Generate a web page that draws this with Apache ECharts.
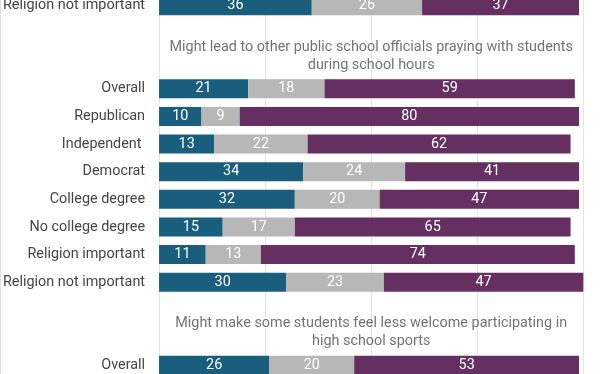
<!DOCTYPE html>
<html>
<head>
<meta charset="utf-8">
<script src="https://cdn.jsdelivr.net/npm/echarts@6/dist/echarts.min.js"></script>
<style>
html,body{margin:0;padding:0;background:#fff;overflow:hidden;}
#wrap{position:relative;width:612px;height:374px;overflow:hidden;}
#edge{position:absolute;left:0;top:0;width:1px;height:374px;background:#e0e0e0;z-index:2;}
#chart{position:absolute;left:0;top:-8px;width:612px;height:387px;}
</style>
</head>
<body>
<div id="wrap"><div id="chart"></div><div id="edge"></div></div>
<script>
const categories = ['Religion not important', '', '', 'Overall', 'Republican', 'Independent ', 'Democrat', 'College degree', 'No college degree', 'Religion important', 'Religion not important', '', '', 'Overall'];
const seriesA = [36, null, null, 21, 10, 13, 34, 32, 15, 11, 30, null, null, 26];
const seriesB = [26, null, null, 18, 9, 22, 24, 20, 17, 13, 23, null, null, 20];
const seriesC = [37, null, null, 59, 80, 62, 41, 47, 65, 74, 47, null, null, 53];
const sectionTitles = [
  'Might lead to other public school officials praying with students\nduring school hours',
  'Might make some students feel less welcome participating in\nhigh school sports'
];
const sectionTitleRows = [2, 12];
const xTicks = [0, 25, 50, 75, 100];

const chart = echarts.init(document.getElementById('chart'), null, {renderer: 'canvas'});
const FONT = 'Roboto';
const FS = 14.4;
const barLabel = {show: true, position: 'inside', color: '#fff', fontFamily: FONT, fontSize: FS,
  formatter: p => (p.value == null ? '' : p.value)};

chart.setOption({
  animation: false,
  backgroundColor: '#fff',
  grid: {left: 158, right: 28.7, top: 0, bottom: 0, containLabel: false},
  xAxis: {
    type: 'value', min: xTicks[0], max: xTicks[xTicks.length - 1], interval: 25,
    axisLabel: {show: false}, axisLine: {show: false}, axisTick: {show: false},
    splitLine: {show: true, lineStyle: {color: '#e4e4e4', width: 1}}
  },
  yAxis: {
    type: 'category', inverse: true, data: categories,
    axisLine: {show: false}, axisTick: {show: false},
    axisLabel: {color: '#454545', fontFamily: FONT, fontSize: FS, margin: 14}
  },
  series: [
    {type: 'bar', stack: 's', data: seriesA, barWidth: 19, itemStyle: {color: '#195e7c'}, label: barLabel},
    {type: 'bar', stack: 's', data: seriesB, barWidth: 19, itemStyle: {color: '#b7b7b7'}, label: barLabel},
    {type: 'bar', stack: 's', data: seriesC, barWidth: 19, itemStyle: {color: '#652f62'}, label: barLabel},
    {
      type: 'scatter', symbolSize: 0, silent: true,
      data: sectionTitleRows.map((r, i) => ({value: [50, r], name: sectionTitles[i]})),
      label: {show: true, position: 'inside', offset: [0, -5], formatter: p => p.name,
        color: '#505050', fontFamily: FONT, fontSize: FS, lineHeight: 18, align: 'center'}
    }
  ]
});
</script>
</body>
</html>
